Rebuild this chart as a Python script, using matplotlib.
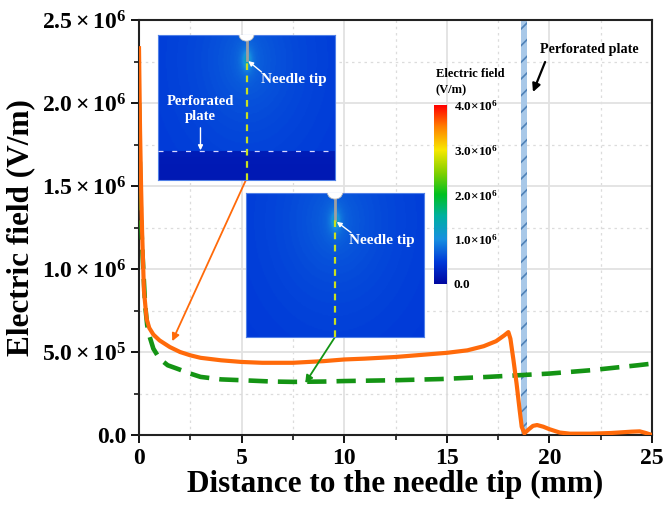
import numpy as np
import matplotlib
matplotlib.use("Agg")
import matplotlib.pyplot as plt
from matplotlib.colors import LinearSegmentedColormap
from matplotlib.patches import Rectangle, Circle

plt.rcParams["font.family"] = ["Liberation Serif", "DejaVu Serif"]
plt.rcParams["font.weight"] = "bold"
plt.rcParams["mathtext.fontset"] = "custom"
plt.rcParams["mathtext.rm"] = "Liberation Serif:bold"
plt.rcParams["mathtext.bf"] = "Liberation Serif:bold"
plt.rcParams["mathtext.it"] = "Liberation Serif:bold"
plt.rcParams["hatch.linewidth"] = 1.2

# Electric field along the axis below the needle tip
dist_plate = [0, 0.05, 0.1, 0.15, 0.24, 0.37, 0.5, 0.7, 1.0, 1.5, 2.0, 2.5, 3.0,
              4.0, 5.0, 6.0, 7.5, 9.0, 10.0, 11.0, 12.5, 14.0, 15.0, 16.0, 16.8,
              17.4, 17.8, 18.0, 18.1, 18.25, 18.4, 18.55, 18.65, 18.78, 19.0,
              19.2, 19.4, 19.7, 20.0, 20.5, 21.0, 22.0, 23.0, 24.0, 24.4, 24.7, 25.0]
field_plate = [2.33e6, 1.84e6, 1.5e6, 1.23e6, 0.87e6, 0.70e6, 0.645e6, 0.605e6,
               0.57e6, 0.53e6, 0.50e6, 0.48e6, 0.465e6, 0.45e6, 0.44e6, 0.435e6,
               0.435e6, 0.445e6, 0.455e6, 0.46e6, 0.47e6, 0.485e6, 0.495e6,
               0.51e6, 0.535e6, 0.565e6, 0.60e6, 0.62e6, 0.58e6, 0.45e6, 0.31e6,
               0.15e6, 0.05e6, 0.01e6, 0.035e6, 0.055e6, 0.06e6, 0.05e6, 0.035e6,
               0.015e6, 0.008e6, 0.008e6, 0.012e6, 0.02e6, 0.022e6, 0.012e6, 0.0]

dist_free = [0, 0.03, 0.06, 0.1, 0.15, 0.2, 0.3, 0.4, 0.5, 0.7, 1.0, 1.4, 1.85,
             2.5, 3.0, 4.0, 5.0, 6.5, 7.5, 9.0, 10.0, 12.5, 14.7, 17.0, 18.8,
             20.0, 22.0, 24.3, 25.0]
field_free = [2.0e6, 1.75e6, 1.5e6, 1.3e6, 1.15e6, 1.02e6, 0.78e6, 0.66e6, 0.60e6,
              0.52e6, 0.46e6, 0.42e6, 0.40e6, 0.37e6, 0.35e6, 0.335e6, 0.33e6,
              0.322e6, 0.32e6, 0.322e6, 0.325e6, 0.33e6, 0.337e6, 0.35e6, 0.362e6,
              0.37e6, 0.39e6, 0.42e6, 0.43e6]

plate_pos = (18.6, 18.9)

yticks = [0, 0.5e6, 1.0e6, 1.5e6, 2.0e6, 2.5e6]
ytick_labels = ["0.0", r"$5.0\times10^{5}$", r"$1.0\times10^{6}$",
                r"$1.5\times10^{6}$", r"$2.0\times10^{6}$", r"$2.5\times10^{6}$"]
xticks = [0, 5, 10, 15, 20, 25]

cbar_ticks = [0, 1e6, 2e6, 3e6, 4e6]
cbar_labels = ["0.0", r"$1.0{\times}10^{6}$", r"$2.0{\times}10^{6}$",
               r"$3.0{\times}10^{6}$", r"$4.0{\times}10^{6}$"]

W, H = 666, 509
fig = plt.figure(figsize=(W / 100, H / 100), dpi=100)


def px_axes(x0, y0, x1, y1, **kw):
    return fig.add_axes([x0 / W, 1 - y1 / H, (x1 - x0) / W, (y1 - y0) / H], **kw)


ax = px_axes(139, 20, 652, 435)
ax.set_xlim(0, 25)
ax.set_ylim(0, 2.5e6)

# grid
ax.set_xticks(xticks)
ax.set_xticks([2.5, 7.5, 12.5, 17.5, 22.5], minor=True)
ax.set_yticks(yticks)
ax.set_yticks([0.25e6, 0.75e6, 1.25e6, 1.75e6, 2.25e6], minor=True)
ax.set_yticklabels(ytick_labels)
ax.set_xticklabels([str(v) for v in xticks])
ax.grid(which="major", color="#e2e2e2", lw=1.3, zorder=0)
ax.grid(which="minor", color="#dcdcdc", lw=0.9, ls=(0, (2, 3)), zorder=0)
ax.set_axisbelow(True)
ax.tick_params(which="major", direction="out", length=6, width=1.3, labelsize=17, pad=3)
ax.tick_params(which="minor", direction="out", length=3.5, width=1.1)
for s in ax.spines.values():
    s.set_linewidth(1.5)
    s.set_color("#222222")

ax.set_xlabel("Distance to the needle tip (mm)", fontsize=22.5, fontweight="bold",
              labelpad=1)
ax.set_ylabel("Electric field (V/m)", fontsize=22.5, fontweight="bold", labelpad=5)

# perforated plate
ax.add_patch(Rectangle((plate_pos[0], 0), plate_pos[1] - plate_pos[0], 2.5e6,
                       facecolor="#a8c8e8", edgecolor="#4f82b8", hatch="//", lw=0,
                       zorder=1))

ax.plot(dist_free, field_free, color="#149414", lw=3.3, ls=(0, (4.2, 2.2)),
        zorder=3, solid_capstyle="butt")
ax.plot(dist_plate, field_plate, color="#ff6a0a", lw=3.0, zorder=4)

ax.text(19.54, 2.325e6, "Perforated plate", fontsize=10.2, fontweight="bold",
        ha="left", va="center")
ax.annotate("", xy=(19.2, 2.066e6), xytext=(19.79, 2.247e6),
            arrowprops=dict(arrowstyle="-|>", color="black", lw=1.6,
                            mutation_scale=12, shrinkA=0, shrinkB=0))

# colour scale used for the field maps
field_cmap = LinearSegmentedColormap.from_list(
    "field", [(0.0, "#0008a0"), (0.12, "#0038d8"), (0.25, "#1890e0"),
              (0.38, "#00b0a0"), (0.5, "#00c020"), (0.62, "#80d000"),
              (0.75, "#f8e800"), (0.88, "#ff8000"), (1.0, "#ff0000")])


def field_map(nx, ny, tip_frac, plate_frac=None):
    xx = np.linspace(-1, 1, nx)
    yy = np.linspace(0, 1, ny)
    X, Y = np.meshgrid(xx, yy)
    r = np.hypot(X * 1.1, (Y - tip_frac) * 1.3)
    vals = 0.46e6 + 0.30e6 * np.exp(-r / 0.7)
    vals += 0.9e6 * np.exp(-np.hypot(X * 30, (Y - tip_frac) * 22))
    if plate_frac is not None:
        below = Y < plate_frac
        vals[below] = 0.16e6 + 0.06e6 * np.exp(-((plate_frac - Y[below]) / 0.12))
    return vals


def draw_inset(box, tip_frac, plate_frac=None):
    iax = px_axes(*box)
    vals = field_map(160, 130, tip_frac, plate_frac)
    iax.imshow(vals, origin="lower", cmap=field_cmap, vmin=0, vmax=4e6,
               extent=(0, 1, 0, 1), aspect="auto", interpolation="bilinear")
    iax.set_xlim(0, 1)
    iax.set_ylim(0, 1)
    iax.set_xticks([])
    iax.set_yticks([])
    for s in iax.spines.values():
        s.set_color("#5080e8")
        s.set_linewidth(0.8)
    # needle
    iax.add_patch(Circle((0.5, 1.0), 0.042, transform=iax.transAxes,
                         facecolor="white", edgecolor="#bbbbbb", lw=0.6,
                         zorder=5, clip_on=True))
    iax.plot([0.5, 0.5], [1.0, tip_frac], color="#a0a0a0", lw=2.0, zorder=4)
    iax.plot([0.5, 0.5], [0, tip_frac], color="#c8e020", lw=1.6,
             ls=(0, (3, 2.5)), zorder=4)
    if plate_frac is not None:
        iax.plot([0, 1], [plate_frac, plate_frac], color="#d8d8ff", lw=0.9,
                 ls=(0, (4, 7)), zorder=4)
    return iax


ax1 = draw_inset((158, 35, 335, 180), tip_frac=0.83, plate_frac=0.2)
ax1.text(0.58, 0.69, "Needle tip", color="white", fontsize=11, fontweight="bold",
         va="center", ha="left")
ax1.annotate("", xy=(0.51, 0.82), xytext=(0.585, 0.745),
             arrowprops=dict(arrowstyle="-|>", color="white", lw=1.0, mutation_scale=7,
                             shrinkA=0, shrinkB=0))
ax1.text(0.24, 0.49, "Perforated\nplate", color="white", fontsize=10.5,
         fontweight="bold", va="center", ha="center", linespacing=1.15)
ax1.annotate("", xy=(0.24, 0.205), xytext=(0.24, 0.36),
             arrowprops=dict(arrowstyle="-|>", color="white", lw=1.0, mutation_scale=7,
                             shrinkA=0, shrinkB=0))

ax2 = draw_inset((246, 193, 424, 337), tip_frac=0.81)
ax2.text(0.58, 0.667, "Needle tip", color="white", fontsize=11, fontweight="bold",
         va="center", ha="left")
ax2.annotate("", xy=(0.51, 0.8), xytext=(0.59, 0.725),
             arrowprops=dict(arrowstyle="-|>", color="white", lw=1.0, mutation_scale=7,
                             shrinkA=0, shrinkB=0))

# arrows linking field maps to curves
ax.annotate("", xy=(1.62, 0.565e6), xytext=(5.21, 1.536e6),
            arrowprops=dict(arrowstyle="-|>", color="#ff6a0a", lw=1.3,
                            mutation_scale=11, shrinkA=0, shrinkB=0), zorder=6)
ax.annotate("", xy=(8.1, 0.313e6), xytext=(9.55, 0.59e6),
            arrowprops=dict(arrowstyle="-|>", color="#149414", lw=1.3,
                            mutation_scale=11, shrinkA=0, shrinkB=0), zorder=6)

# colour bar
cax = px_axes(434, 105, 447, 284)
grad = np.linspace(0, 4e6, 256).reshape(-1, 1)
cax.imshow(grad, origin="lower", cmap=field_cmap, vmin=0, vmax=4e6,
           extent=(0, 1, 0, 4e6), aspect="auto")
cax.set_xticks([])
cax.yaxis.tick_right()
cax.set_yticks(cbar_ticks)
cax.set_yticklabels(cbar_labels)
cax.tick_params(axis="y", length=0, labelsize=9.5, pad=5)
for s in cax.spines.values():
    s.set_visible(False)
cax.text(0.15, 1.05, "Electric field\n(V/m)", transform=cax.transAxes,
         fontsize=9, fontweight="bold", ha="left", va="bottom", linespacing=1.5)

fig.savefig("out.png", dpi=100)
